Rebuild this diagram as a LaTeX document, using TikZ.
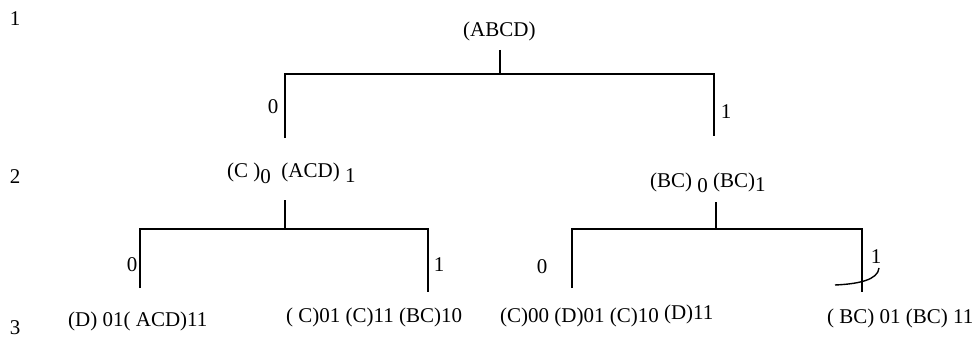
\documentclass[tikz,border=0pt]{standalone}
\usepackage{fontspec}
\setmainfont{Liberation Serif}
\begin{document}
\begin{tikzpicture}[x=1pt,y=-1pt,
  txt/.style={inner sep=0pt, anchor=base west, font=\fontsize{21}{25}\selectfont},
  num/.style={inner sep=0pt, anchor=center, font=\fontsize{21}{25}\selectfont},
  row/.style={inner sep=0pt, anchor=base, font=\fontsize{21}{25}\selectfont},
  edge/.style={draw=black, line width=1.4pt}]
\useasboundingbox (0,0) rectangle (980,337);
% row labels
\node[row] (r1) at (15,26) {1};
\node[row] (r2) at (15,183) {2};
\node[row] (r3) at (15,334) {3};
% texts
\node[txt] (abcd) at (463,37) {(ABCD)};
\node[txt] (nl) at (227,177) {(C )\raisebox{-6pt}{0}\ \ (ACD) \raisebox{-5pt}{1}};
\node[txt] (nr) at (650,187) {(BC) \raisebox{-5pt}{0} (BC)\raisebox{-4pt}{1}};
\node[txt] (la) at (68,326) {(D) 01( ACD)11};
\node[txt] (lb) at (286,322) {( C)01 (C)11 (BC)10};
\node[txt] (lc) at (500,322) {(C)00 (D)01 (C)10 \raisebox{3pt}{(D)11}};
\node[txt] (ld) at (827,323) {( BC) 01 (BC) 11};
% branch labels
\node[num] (b10) at (273,107) {0};
\node[num] (b11) at (726,112) {1};
\node[num] (b20) at (132,265) {0};
\node[num] (b21) at (439,265) {1};
\node[num] (b30) at (542,267) {0};
\node[num] (b31) at (876,257) {1};
% coordinates
\coordinate (s1) at (500,50);
\coordinate (j1) at (500,74);
\coordinate (c1l) at (285,74);
\coordinate (c1r) at (714,74);
\coordinate (e1l) at (285,138);
\coordinate (e1r) at (714,136);
\coordinate (s2) at (285,200);
\coordinate (j2) at (285,229);
\coordinate (c2l) at (140,229);
\coordinate (c2r) at (428,229);
\coordinate (e2l) at (140,288);
\coordinate (e2r) at (428,292);
\coordinate (s3) at (716,202);
\coordinate (j3) at (716,229);
\coordinate (c3l) at (572,229);
\coordinate (c3r) at (862,229);
\coordinate (e3l) at (572,288);
\coordinate (e3r) at (862,292);
\coordinate (a0) at (835,285);
\coordinate (a1) at (879,268);
% lines
\draw[edge] (s1) -- (j1);
\draw[edge] (e1l) -- (c1l) -- (c1r) -- (e1r);
\draw[edge] (s2) -- (j2);
\draw[edge] (e2l) -- (c2l) -- (c2r) -- (e2r);
\draw[edge] (s3) -- (j3);
\draw[edge] (e3l) -- (c3l) -- (c3r) -- (e3r);
\draw[edge] (a0) .. controls (858,284) and (878,280) .. (a1);
\end{tikzpicture}
\end{document}
